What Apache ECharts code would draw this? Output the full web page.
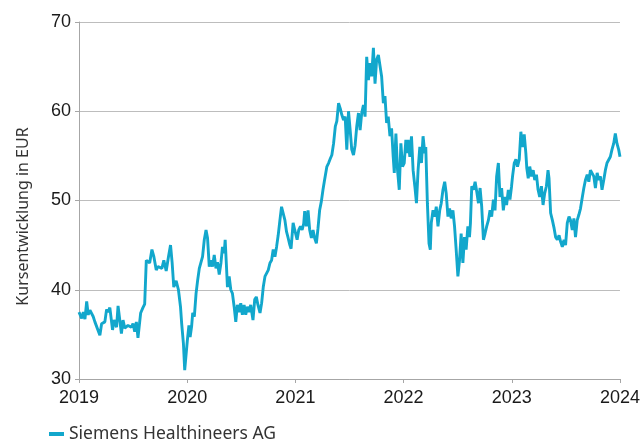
<!DOCTYPE html>
<html>
<head>
<meta charset="utf-8">
<title>Siemens Healthineers AG</title>
<script src="https://cdn.jsdelivr.net/npm/echarts@6/dist/echarts.min.js"></script>
<style>
    html, body { margin: 0; padding: 0; background: #fff; }
    #chart { width: 643px; height: 440px; }
</style>
</head>
<body>
<div id="chart"></div>
<script>
'use strict'

// Zeitpunkte (Jahresbruchteile) und Kurse in EUR
var years = [
    2019.000, 2019.009, 2019.025, 2019.040, 2019.055, 2019.071, 2019.085, 2019.101, 2019.131, 2019.147,
    2019.163, 2019.193, 2019.209, 2019.239, 2019.255, 2019.269, 2019.285, 2019.301, 2019.310, 2019.324,
    2019.347, 2019.361, 2019.377, 2019.392, 2019.407, 2019.423, 2019.453, 2019.484, 2019.499, 2019.515,
    2019.530, 2019.545, 2019.570, 2019.591, 2019.607, 2019.622, 2019.637, 2019.653, 2019.674, 2019.692,
    2019.714, 2019.729, 2019.744, 2019.766, 2019.784, 2019.806, 2019.827, 2019.846, 2019.861, 2019.876,
    2019.898, 2019.919, 2019.938, 2019.949, 2019.965, 2019.977,
    2020.002, 2020.016, 2020.027, 2020.041, 2020.051, 2020.066, 2020.082, 2020.097, 2020.112, 2020.128,
    2020.142, 2020.158, 2020.174, 2020.188, 2020.204, 2020.220, 2020.234, 2020.250, 2020.266, 2020.280,
    2020.296, 2020.312, 2020.326, 2020.342, 2020.351, 2020.363, 2020.372, 2020.388, 2020.403, 2020.418,
    2020.434, 2020.449, 2020.464, 2020.480, 2020.495, 2020.510, 2020.526, 2020.541, 2020.556, 2020.572,
    2020.587, 2020.608, 2020.624, 2020.639, 2020.654, 2020.673, 2020.688, 2020.703, 2020.719, 2020.734,
    2020.749, 2020.765, 2020.780, 2020.795, 2020.811, 2020.826, 2020.841, 2020.857, 2020.872, 2020.887,
    2020.903, 2020.918, 2020.933, 2020.949, 2020.960, 2020.979, 2020.994,
    2021.016, 2021.031, 2021.047, 2021.062, 2021.077, 2021.086, 2021.102, 2021.117, 2021.132, 2021.148,
    2021.163, 2021.178, 2021.194, 2021.209, 2021.224, 2021.240, 2021.255, 2021.267, 2021.282, 2021.291,
    2021.307, 2021.323, 2021.337, 2021.353, 2021.369, 2021.383, 2021.399, 2021.415, 2021.429, 2021.445,
    2021.460, 2021.475, 2021.491, 2021.506, 2021.521, 2021.537, 2021.552, 2021.567, 2021.583, 2021.598,
    2021.613, 2021.629, 2021.644, 2021.659, 2021.675, 2021.690, 2021.705, 2021.721, 2021.736, 2021.751,
    2021.767, 2021.782, 2021.797, 2021.813, 2021.828, 2021.843, 2021.858, 2021.874, 2021.889, 2021.904,
    2021.914, 2021.929, 2021.944, 2021.960, 2021.975, 2021.990,
    2022.006, 2022.021, 2022.036, 2022.042, 2022.058, 2022.073, 2022.088, 2022.104, 2022.119, 2022.134,
    2022.150, 2022.165, 2022.180, 2022.196, 2022.205, 2022.220, 2022.235, 2022.247, 2022.256, 2022.272,
    2022.288, 2022.302, 2022.318, 2022.334, 2022.348, 2022.364, 2022.380, 2022.394, 2022.410, 2022.425,
    2022.440, 2022.456, 2022.471, 2022.486, 2022.502, 2022.517, 2022.532, 2022.548, 2022.563, 2022.578,
    2022.594, 2022.609, 2022.618, 2022.630, 2022.646, 2022.661, 2022.676, 2022.692, 2022.707, 2022.722,
    2022.738, 2022.753, 2022.768, 2022.784, 2022.799, 2022.814, 2022.830, 2022.845, 2022.860, 2022.876,
    2022.891, 2022.906, 2022.922, 2022.937, 2022.952, 2022.968, 2022.983, 2022.998,
    2023.007, 2023.023, 2023.038, 2023.053, 2023.069, 2023.084, 2023.099, 2023.115, 2023.130, 2023.139,
    2023.152, 2023.166, 2023.182, 2023.198, 2023.212, 2023.228, 2023.243, 2023.258, 2023.274, 2023.289,
    2023.304, 2023.320, 2023.335, 2023.344, 2023.359, 2023.375, 2023.391, 2023.405, 2023.421, 2023.437,
    2023.451, 2023.467, 2023.483, 2023.497, 2023.513, 2023.529, 2023.543, 2023.559, 2023.574, 2023.589,
    2023.605, 2023.620, 2023.635, 2023.651, 2023.666, 2023.681, 2023.697, 2023.712, 2023.727, 2023.743,
    2023.758, 2023.773, 2023.789, 2023.804, 2023.819, 2023.834, 2023.850, 2023.865, 2023.880, 2023.896,
    2023.911, 2023.926, 2023.942, 2023.957, 2023.972, 2023.988, 2024.000
];

var prices = [
    37.5, 37.4, 36.8, 37.5, 36.7, 38.7, 37.2, 37.7, 37.0, 36.4,
    36.6, 34.9, 36.2, 36.4, 37.8, 37.5, 38.0, 38.2, 35.5, 36.6,
    35.8, 38.2, 38.0, 35.1, 36.6, 35.7, 36.0, 35.8, 36.2, 35.3,
    36.4, 34.6, 37.4, 38.0, 38.4, 43.3, 43.5, 43.0, 44.5, 43.7,
    42.2, 42.6, 42.8, 42.4, 43.3, 42.1, 43.7, 45.0, 43.0, 40.3,
    41.0, 40.0, 38.1, 36.2, 34.0, 31.0,
    34.4, 36.0, 34.7, 35.9, 37.4, 37.0, 39.6, 41.1, 42.4, 42.6,
    43.7, 45.6, 46.7, 45.8, 42.6, 43.3, 42.6, 43.9, 42.4, 43.1,
    41.7, 43.0, 44.8, 44.1, 45.6, 42.6, 40.3, 41.5, 40.0, 39.6,
    38.1, 36.4, 38.3, 37.5, 38.5, 37.2, 38.3, 37.2, 38.1, 37.5,
    38.3, 36.6, 38.9, 39.2, 38.3, 37.4, 38.5, 40.3, 41.5, 41.7,
    42.2, 43.0, 43.3, 44.5, 43.7, 44.8, 46.1, 47.8, 49.3, 49.1,
    47.8, 46.5, 45.8, 45.0, 44.6, 47.5, 46.7,
    45.6, 46.7, 47.1, 46.7, 47.4, 48.8, 47.1, 48.9, 46.7, 45.8,
    46.7, 45.8, 45.2, 46.9, 48.9, 49.9, 51.2, 52.1, 52.3, 53.8,
    54.2, 54.7, 55.1, 56.4, 58.3, 58.9, 60.9, 60.3, 59.6, 59.0,
    59.4, 55.7, 60.0, 57.9, 55.7, 55.1, 56.2, 58.3, 59.8, 57.9,
    59.8, 60.7, 59.4, 66.1, 63.5, 65.4, 63.9, 67.1, 63.1, 65.8,
    66.3, 66.1, 63.9, 60.9, 61.7, 58.7, 59.4, 57.2, 58.1, 54.9,
    53.1, 57.5, 53.4, 51.2, 56.4, 53.8,
    54.2, 56.8, 55.3, 56.8, 54.9, 57.2, 53.4, 51.6, 49.7, 53.4,
    56.0, 54.2, 57.2, 55.3, 56.0, 49.7, 45.2, 44.5, 47.5, 48.9,
    48.2, 49.3, 47.1, 48.9, 49.7, 51.2, 52.1, 50.8, 48.2, 49.1,
    48.0, 48.9, 47.1, 44.5, 41.5, 43.3, 46.3, 43.0, 45.9, 44.5,
    47.1, 45.9, 47.5, 51.6, 51.2, 52.1, 51.0, 49.7, 51.4, 49.3,
    45.6, 46.3, 47.1, 47.8, 48.9, 48.2, 50.1, 48.9, 52.7, 54.2,
    50.4, 51.4, 48.9, 50.4, 49.5, 51.2, 50.1, 51.6,
    52.7, 54.2, 54.6, 53.8, 54.6, 57.7, 56.0, 57.4, 55.3, 53.6,
    52.5, 53.8, 52.7, 53.4, 52.3, 52.9, 51.2, 50.4, 51.6, 49.5,
    50.8, 51.6, 53.4, 52.5, 48.6, 47.8, 46.9, 45.9, 45.6, 46.1,
    45.4, 44.8, 45.6, 45.0, 47.5, 48.2, 47.8, 46.7, 48.0, 45.9,
    47.8, 48.4, 49.1, 50.3, 51.4, 52.3, 52.9, 52.1, 53.4, 53.2,
    52.7, 51.4, 53.1, 52.3, 52.7, 51.2, 52.3, 53.4, 54.2, 54.0,
    54.9, 55.7, 56.4, 57.5, 56.4, 55.7, 54.9
];

var seriesName = 'Siemens Healthineers AG';
var yAxisName = 'Kursentwicklung in EUR';

var lineData = [];
for (var i = 0; i < years.length; i++) {
    lineData.push([years[i], prices[i]]);
}

var myChart = echarts.init(document.getElementById('chart'), null, { renderer: 'canvas' });

var option = {
    animation: false,
    grid: {
        left: 79,
        right: 20,
        top: 22,
        bottom: 61,
        containLabel: false
    },
    legend: {
        data: [seriesName],
        left: 44,
        top: 420,
        icon: 'rect',
        itemWidth: 15,
        itemHeight: 4,
        itemGap: 10,
        textStyle: {
            fontFamily: 'Noto Sans',
            fontSize: 17.5,
            color: '#333'
        }
    },
    xAxis: {
        type: 'value',
        min: 2019,
        max: 2024,
        interval: 1,
        axisLine: { lineStyle: { color: '#a6a6a6', width: 1 } },
        axisTick: { show: true, length: 4, lineStyle: { color: '#a6a6a6' } },
        splitLine: { show: false },
        axisLabel: {
            margin: 10,
            fontFamily: 'Liberation Sans',
            fontSize: 18,
            color: '#1a1a1a',
            formatter: function (v) { return String(v); }
        }
    },
    yAxis: {
        type: 'value',
        min: 30,
        max: 70,
        interval: 10,
        name: yAxisName,
        nameLocation: 'middle',
        nameGap: 48,
        nameTextStyle: {
            fontFamily: 'Noto Sans',
            fontSize: 16,
            color: '#333',
            padding: [0, 32, 0, 0]
        },
        axisLine: { show: true, lineStyle: { color: '#a6a6a6', width: 1 } },
        axisTick: { show: true, length: 4, lineStyle: { color: '#a6a6a6' } },
        splitLine: { show: true, lineStyle: { color: '#bdbdbd', width: 1 } },
        axisLabel: {
            margin: 8,
            fontFamily: 'Liberation Sans',
            fontSize: 18,
            color: '#1a1a1a'
        }
    },
    series: [{
        name: seriesName,
        type: 'line',
        data: lineData,
        showSymbol: false,
        symbol: 'none',
        color: '#12a7cc',
        lineStyle: { color: '#12a7cc', width: 2.9 },
        z: 3
    }]
};

myChart.setOption(option);
</script>
</body>
</html>
